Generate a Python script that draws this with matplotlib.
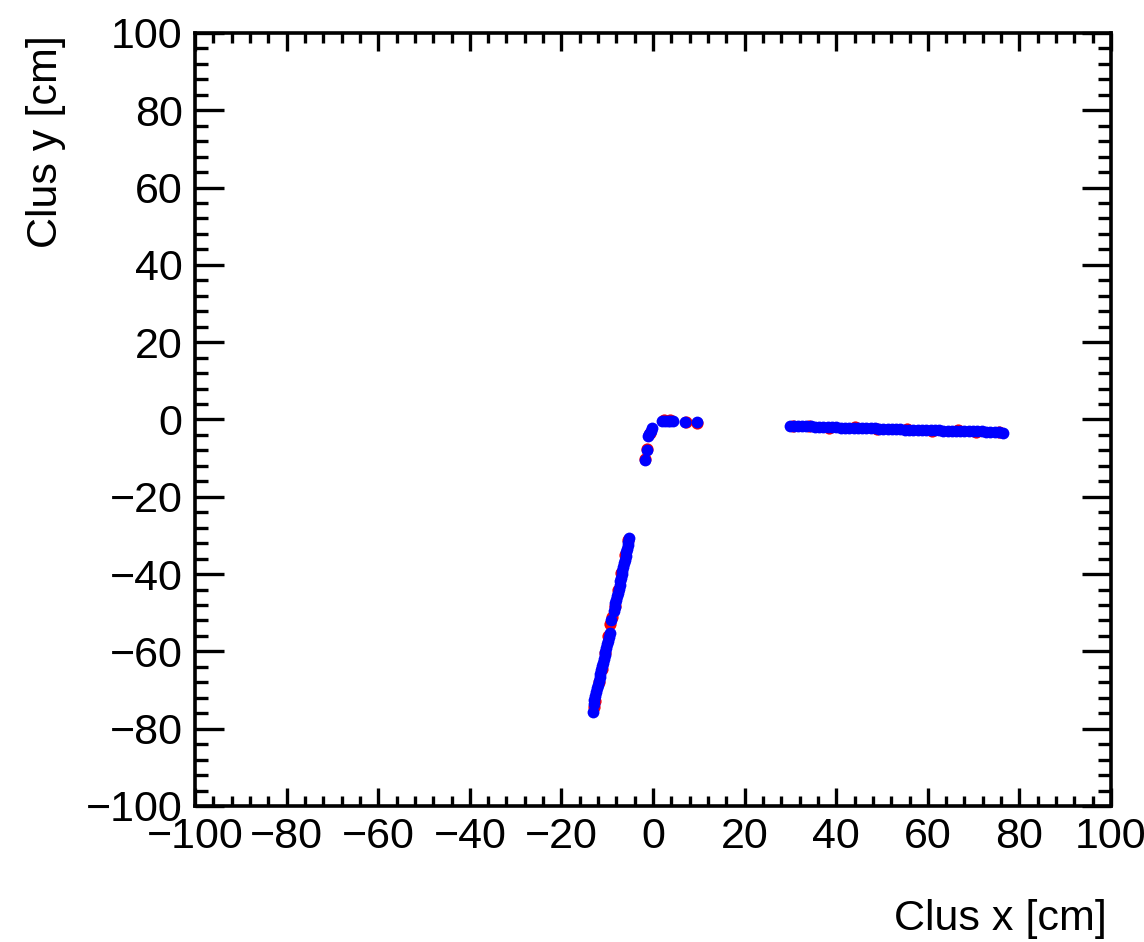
import matplotlib
matplotlib.use('Agg')
import matplotlib.pyplot as plt
from matplotlib.ticker import MultipleLocator

plt.rcParams['font.family'] = ['Liberation Sans', 'DejaVu Sans']

# blue clusters (reco)
blue_x_slant = [-5.2, -5.4, -5.5, -5.7, -5.8, -6.0, -6.2, -6.3, -6.5, -6.7, -6.8, -7.0, -7.2, -7.3,
                -7.5, -7.7, -7.8, -8.0, -8.2, -8.4, -8.6, -9.1, -9.5, -9.7, -9.9, -10.0, -10.2, -10.4,
                -10.6, -10.7, -10.9, -11.1, -11.3, -11.5, -11.6, -11.8, -12.0, -12.2, -12.4, -12.6,
                -12.8, -13.0, -13.2]
blue_y_slant = [-30.6, -31.6, -32.5, -33.4, -34.4, -35.3, -36.3, -37.2, -38.1, -39.1, -40.0, -41.0,
                -41.9, -42.9, -43.8, -44.8, -45.7, -46.7, -47.6, -48.6, -49.5, -52.0, -55.3, -56.3,
                -57.2, -58.2, -59.1, -60.1, -61.0, -62.0, -62.9, -63.9, -64.8, -65.8, -66.7, -67.7,
                -68.6, -69.6, -70.6, -71.6, -72.6, -73.6, -75.6]

blue_x_core = [-1.75, -1.4, -1.0, -0.8, -0.5, -0.3, 1.9, 2.5, 3.2, 3.8, 4.4, 7.0, 9.5]
blue_y_core = [-10.5, -7.9, -4.4, -3.7, -2.9, -2.3, -0.3, -0.3, -0.3, -0.3, -0.3, -0.6, -0.7]

blue_x_flat = [29.9, 30.8, 31.7, 32.6, 33.5, 34.4, 35.4, 36.3, 37.2, 38.2, 39.1, 40.0, 41.0, 41.9,
               42.8, 43.8, 44.7, 45.6, 46.6, 47.5, 48.4, 49.4, 50.3, 51.2, 52.2, 53.1, 54.0, 55.0,
               55.9, 56.8, 57.8, 58.7, 59.6, 60.6, 61.5, 62.4, 63.4, 64.3, 65.2, 66.2, 67.1, 68.0,
               69.0, 69.9, 70.8, 71.8, 72.7, 73.6, 74.6, 75.5, 76.5]
blue_y_flat = [-1.6, -1.6, -1.7, -1.7, -1.7, -1.8, -1.9, -1.9, -1.9, -2.0,
               -2.0, -2.0, -2.1, -2.1, -2.1, -2.2, -2.2, -2.2, -2.3, -2.3,
               -2.3, -2.4, -2.4, -2.4, -2.5, -2.5, -2.5, -2.6, -2.6, -2.6,
               -2.7, -2.7, -2.7, -2.8, -2.8, -2.8, -2.9, -2.9, -2.9, -3.0,
               -3.0, -3.0, -3.0, -3.1, -3.1, -3.1, -3.2, -3.2, -3.2, -3.3, -3.4]

# red clusters (mostly hidden under the blue ones)
red_x = [-5.4, -6.1, -6.9, -7.6, -8.3, -8.9, -9.3, -9.8, -10.5, -11.2, -11.9, -12.7, -13.0,
         -1.7, -1.3, -0.7, 2.3, 3.6, 7.1, 9.6,
         30.5, 34.0, 38.5, 44.0, 49.0, 55.5, 61.0, 66.5, 70.5, 75.5]
red_y = [-31.2, -35.0, -39.8, -44.0, -48.3, -51.2, -53.0, -56.0, -60.5, -64.6, -68.0, -72.9, -74.5,
         -10.3, -7.6, -3.4, -0.2, -0.2, -0.6, -0.8,
         -1.7, -1.6, -2.1, -2.0, -2.5, -2.5, -2.9, -2.8, -3.2, -3.2]

fig = plt.figure(figsize=(11.44, 9.42), dpi=100)
ax = fig.add_axes([0.1705, 0.1444, 0.8007, 0.8206])

ax.plot(red_x, red_y, 'o', color='red', ms=8.8, mew=0, ls='none')
for xs, ys in [(blue_x_slant, blue_y_slant), (blue_x_core, blue_y_core), (blue_x_flat, blue_y_flat)]:
    ax.plot(xs, ys, 'o', color='blue', ms=8.5, mew=0, ls='none')

ax.set_xlim(-100, 100)
ax.set_ylim(-100, 100)
ax.xaxis.set_major_locator(MultipleLocator(20))
ax.xaxis.set_minor_locator(MultipleLocator(4))
ax.yaxis.set_major_locator(MultipleLocator(20))
ax.yaxis.set_minor_locator(MultipleLocator(4))

for s in ax.spines.values():
    s.set_linewidth(2.6)
ax.tick_params(axis='both', which='both', direction='in', top=True, right=True, width=2.4,
               labelsize=31)
ax.tick_params(axis='x', which='major', length=13, pad=8)
ax.tick_params(axis='x', which='minor', length=7)
ax.tick_params(axis='y', which='major', length=21, pad=9)
ax.tick_params(axis='y', which='minor', length=9.5)

fig.text(46 / 1144, 1 - 35 / 942, 'Clus y [cm]', rotation=90, ha='center', va='top', fontsize=31)
fig.text(1107 / 1144, 1 - 930 / 942, 'Clus x [cm]', ha='right', va='baseline', fontsize=31)

fig.savefig('out.png', dpi=100)
